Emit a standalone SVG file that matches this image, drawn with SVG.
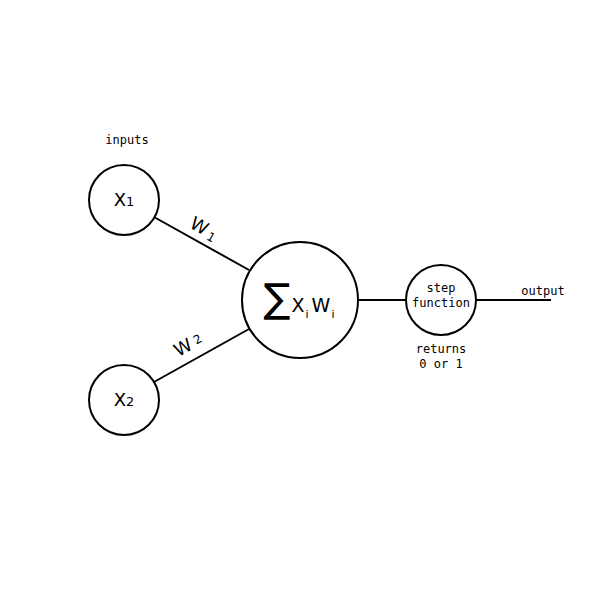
<svg xmlns="http://www.w3.org/2000/svg" width="600" height="600" viewBox="0 0 600 600">
<style>
.node{fill:#fff;stroke:#000;stroke-width:2}
.edge{stroke:#000;stroke-width:2;fill:none}
.mono{font-family:"DejaVu Sans Mono","Liberation Mono",monospace;font-size:12px;fill:#000;text-anchor:middle}
.sans{font-family:"DejaVu Sans","Liberation Sans",sans-serif;fill:#000;text-anchor:middle}
</style>
<rect width="600" height="600" fill="#fff"/>
<g id="connectors">
<line class="edge" x1="154" y1="217" x2="249" y2="270"/>
<line class="edge" x1="154" y1="382" x2="249" y2="329"/>
<line class="edge" x1="358" y1="300" x2="406" y2="300"/>
<line class="edge" x1="476" y1="300" x2="551" y2="300"/>
<text class="sans" font-size="18" transform="translate(201,234) rotate(29)">W<tspan font-size="12" dx="3" dy="2">1</tspan></text>
<text class="sans" font-size="18" transform="translate(191,350) rotate(-29)">W<tspan font-size="12" dx="4" dy="-2">2</tspan></text>
</g>
<g id="inputs-label"><text class="mono" x="127" y="144">inputs</text></g>
<g id="x1">
<circle class="node" cx="124" cy="200" r="35"/>
<text class="sans" font-size="18" x="124" y="206">X<tspan font-size="13">1</tspan></text>
</g>
<g id="x2">
<circle class="node" cx="124" cy="400" r="35"/>
<text class="sans" font-size="18" x="124" y="406">X<tspan font-size="13">2</tspan></text>
</g>
<g id="sum">
<circle class="node" cx="300" cy="300" r="58"/>
<text class="sans" font-size="40" x="277" y="312">∑</text>
<text class="sans" font-size="19" x="298" y="312">X</text>
<text class="sans" font-size="11" x="307" y="318">i</text>
<text class="sans" font-size="19" x="321" y="312">W</text>
<text class="sans" font-size="11" x="333" y="318">i</text>
</g>
<g id="step">
<circle class="node" cx="441" cy="300" r="35"/>
<text class="mono" x="441" y="292">step</text>
<text class="mono" x="441" y="307">function</text>
</g>
<g id="labels">
<text class="mono" x="441" y="353">returns</text>
<text class="mono" x="441" y="368">0 or 1</text>
<text class="mono" x="543" y="295">output</text>
</g>
</svg>
